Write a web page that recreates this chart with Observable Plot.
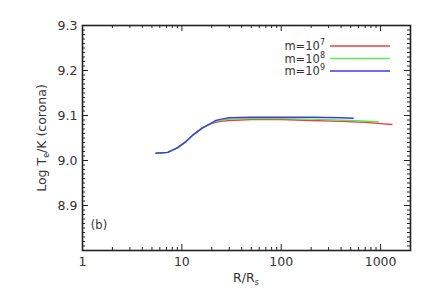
<!DOCTYPE html>
<html><head><meta charset="utf-8">
<script src="https://cdn.jsdelivr.net/npm/d3@7"></script>
<script src="https://cdn.jsdelivr.net/npm/@observablehq/plot@0.6"></script>
<style>body{margin:0;background:#fff}#chart{position:relative;width:436px;height:300px}</style>
</head><body><div id="chart"></div>
<script>
// Data (R/Rs, log Te)
const common = [[5.5,9.016],[7.2,9.018],[9,9.028],[11,9.042],[13,9.057],[16,9.072],[19,9.081]];
const red = [[22,9.085],[25,9.087],[30,9.089],[50,9.091],[100,9.091],[200,9.089],[400,9.087],[700,9.085],[1000,9.082],[1300,9.080]];
const green = [[22,9.087],[26,9.090],[30,9.092],[50,9.093],[100,9.093],[200,9.092],[500,9.089],[950,9.086]];
const blue = [[22,9.089],[25,9.092],[30,9.095],[50,9.096],[100,9.096],[200,9.096],[400,9.095],[530,9.094]];
const seriesNames = ["7","8","9"];
const seriesColors = ["#f23c3c","#5ce65c","#3c3ce6"];
const xMajor = [1,10,100,1000];
const xMinor = [2,3,4,5,6,7,8,9,20,30,40,50,60,70,80,90,200,300,400,500,600,700,800,900];
const yMajor = [8.8,8.9,9.0,9.1,9.2,9.3];
const yLabels = [8.9,9.0,9.1,9.2,9.3];
const yMinor = d3.range(880,931).map(v=>v/100).filter(v=>Math.round(v*100)%10!==0);

const rows = [];
[red,green,blue].forEach((s,i)=>{ common.concat(s).forEach(([x,y])=>rows.push({x,y,m:seriesNames[i]})); });

const W=436,H=300,mt=25,mb=50,ml=82,mr=26;
const ih=H-mt-mb, iw=W-ml-mr;
const maj=6, mnr=3;
const tk="#222";
const ff = "DejaVu Sans, Liberation Sans, sans-serif";
const plot = Plot.plot({
  width:W,height:H,marginTop:mt,marginBottom:mb,marginLeft:ml,marginRight:mr,
  style:{fontFamily:ff,fontSize:"12.5px",color:"#333",background:"#fff"},
  x:{type:"log",domain:[1,2000]},
  y:{domain:[8.8,9.3]},
  color:{domain:seriesNames,range:seriesColors},
  marks:[
    Plot.line(rows,{x:"x",y:"y",z:"m",stroke:"m",strokeWidth:1.4}),
    Plot.tickX(xMajor,{x:d=>d,insetTop:ih-maj,stroke:tk,strokeWidth:1}),
    Plot.tickX(xMajor,{x:d=>d,insetBottom:ih-maj,stroke:tk,strokeWidth:1}),
    Plot.tickX(xMinor,{x:d=>d,insetTop:ih-mnr,stroke:tk,strokeWidth:1}),
    Plot.tickX(xMinor,{x:d=>d,insetBottom:ih-mnr,stroke:tk,strokeWidth:1}),
    Plot.tickY(yMajor,{y:d=>d,insetRight:iw-maj,stroke:tk,strokeWidth:1}),
    Plot.tickY(yMajor,{y:d=>d,insetLeft:iw-maj,stroke:tk,strokeWidth:1}),
    Plot.tickY(yMinor,{y:d=>d,insetRight:iw-mnr,stroke:tk,strokeWidth:1}),
    Plot.tickY(yMinor,{y:d=>d,insetLeft:iw-mnr,stroke:tk,strokeWidth:1}),
    Plot.axisX(xMajor,{tickSize:0,tickPadding:7,tickFormat:d=>String(d),label:null,fill:"#333"}),
    Plot.axisY(yLabels,{tickSize:0,tickPadding:5,tickFormat:d3.format(".1f"),label:null,fill:"#333"}),
    Plot.frame({stroke:tk,strokeWidth:1.6})
  ]
});
document.getElementById("chart").appendChild(plot);
const svg = d3.select(plot);
const yl = svg.append("text").attr("transform","translate(46,138) rotate(-90)").attr("text-anchor","middle")
  .attr("font-family",ff).attr("font-size",12.5).attr("fill","#333");
yl.append("tspan").text("Log T");
yl.append("tspan").attr("font-size",8).attr("dy",3).text("e");
yl.append("tspan").attr("dy",-3).text("/K (corona)");
const xl = svg.append("text").attr("x",246).attr("y",282).attr("text-anchor","middle")
  .attr("font-family",ff).attr("font-size",12.5).attr("fill","#333");
xl.append("tspan").text("R/R");
xl.append("tspan").attr("font-size",8).attr("dy",3).text("s");
svg.append("text").attr("x",99).attr("y",229).attr("font-family",ff).attr("font-size",11.5).attr("fill","#333").text("(b)");
seriesNames.forEach((n,i)=>{
  const y = 46 + i*12.5;
  const t = svg.append("text").attr("x",325).attr("y",y+4).attr("text-anchor","end")
    .attr("font-family",ff).attr("font-size",11.5).attr("fill","#333");
  t.append("tspan").text("m=10");
  t.append("tspan").attr("font-size",8).attr("dy",-5).text(n);
  svg.append("line").attr("x1",330).attr("x2",390).attr("y1",y).attr("y2",y)
    .attr("stroke",seriesColors[i]).attr("stroke-width",1.4);
});
</script></body></html>
